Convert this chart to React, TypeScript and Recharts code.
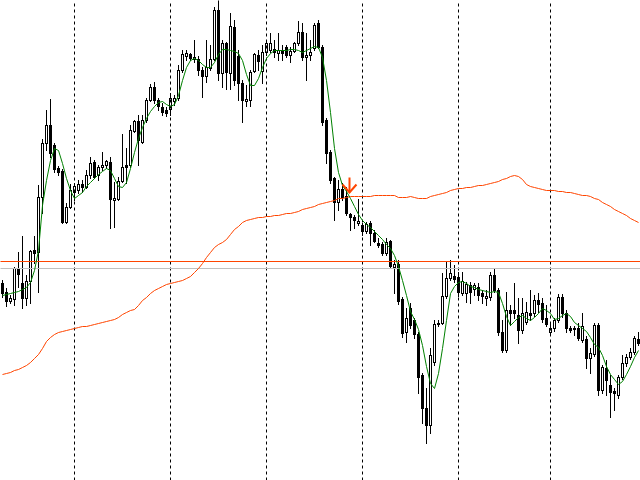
import React from 'react';
import { ComposedChart, Bar, Line, XAxis, YAxis, ReferenceLine, ReferenceDot } from 'recharts';

// hourly candles, price in points
const opens = [
  197, 188, 179, 181, 212, 197, 182, 199, 230, 228, 283, 337, 355, 335, 312, 309, 258, 273, 288, 290,
  296, 293, 305, 318, 305, 313, 315, 318, 280, 281, 299, 315, 315, 349, 359, 338, 360, 380, 393, 380,
  373, 370, 371, 379, 382, 410, 424, 426, 421, 421, 410, 404, 412, 421, 470, 407, 437, 407, 453, 424,
  397, 379, 380, 409, 425, 409, 428, 430, 431, 427, 430, 433, 425, 429, 437, 448, 423, 425, 432, 457,
  433, 360, 328, 302, 278, 291, 284, 266, 263, 257, 255, 249, 257, 247, 237, 236, 227, 239, 213, 216,
  181, 148, 172, 160, 146, 105, 72, 55, 118, 156, 157, 184, 202, 204, 203, 187, 187, 195, 191, 193,
  187, 182, 183, 205, 190, 148, 130, 170, 170, 165, 150, 158, 167, 167, 180, 177, 162, 148, 152, 160,
  183, 167, 152, 152, 152, 140, 141, 122, 126, 155, 90, 112, 95, 89, 85, 103, 117, 123, 128, 141,
];
const highs = [
  200, 192, 185, 213, 228, 244, 205, 230, 244, 295, 341, 370, 381, 337, 314, 311, 277, 296, 297, 300,
  300, 310, 323, 320, 315, 328, 320, 323, 298, 303, 346, 332, 355, 360, 365, 365, 382, 396, 398, 382,
  377, 373, 387, 385, 415, 430, 430, 427, 440, 424, 413, 440, 435, 473, 480, 440, 438, 467, 460, 430,
  400, 395, 410, 427, 430, 435, 440, 447, 440, 447, 435, 435, 433, 438, 459, 457, 447, 440, 457, 460,
  435, 362, 330, 303, 300, 297, 293, 267, 265, 281, 257, 258, 259, 250, 242, 238, 242, 240, 220, 220,
  183, 172, 177, 162, 148, 107, 92, 132, 160, 160, 207, 219, 220, 215, 208, 208, 198, 198, 197, 197,
  190, 190, 208, 212, 192, 160, 188, 175, 197, 182, 182, 178, 190, 185, 187, 182, 175, 158, 162, 186,
  186, 170, 154, 154, 157, 167, 144, 132, 157, 157, 115, 120, 105, 92, 105, 125, 126, 132, 144, 148,
];
const lows = [
  183, 174, 177, 175, 193, 172, 175, 177, 217, 188, 267, 330, 323, 308, 305, 257, 257, 272, 280, 287,
  288, 292, 302, 302, 300, 310, 312, 252, 253, 280, 298, 297, 313, 348, 315, 337, 358, 379, 377, 370,
  365, 364, 365, 375, 380, 408, 420, 420, 418, 405, 383, 398, 410, 420, 400, 393, 391, 391, 395, 380,
  358, 374, 374, 408, 410, 397, 425, 428, 423, 420, 420, 423, 418, 428, 435, 420, 400, 420, 430, 432,
  355, 317, 297, 260, 270, 280, 265, 250, 252, 255, 245, 247, 235, 238, 233, 225, 225, 212, 187, 176,
  143, 138, 152, 142, 87, 57, 37, 47, 115, 154, 156, 182, 200, 198, 184, 185, 178, 177, 185, 180,
  177, 175, 180, 188, 145, 128, 128, 155, 162, 137, 147, 156, 160, 164, 168, 158, 154, 146, 149, 158,
  163, 148, 148, 145, 140, 138, 112, 107, 124, 85, 87, 85, 63, 70, 82, 101, 114, 121, 126, 135,
];
const closes = [
  187, 179, 182, 212, 206, 182, 199, 229, 227, 283, 337, 355, 327, 311, 308, 258, 273, 290, 294, 296,
  293, 305, 317, 303, 313, 315, 319, 281, 282, 299, 313, 313, 350, 359, 340, 360, 380, 393, 380, 374,
  368, 367, 382, 382, 410, 426, 427, 422, 423, 410, 404, 413, 421, 470, 407, 437, 408, 454, 400, 397,
  380, 381, 408, 426, 419, 428, 437, 437, 428, 430, 427, 425, 429, 437, 448, 423, 425, 428, 455, 433,
  358, 327, 300, 278, 291, 283, 267, 263, 260, 259, 249, 256, 247, 239, 235, 227, 238, 214, 216, 179,
  147, 162, 155, 146, 103, 72, 55, 125, 156, 157, 184, 202, 207, 201, 188, 199, 196, 188, 195, 185,
  184, 184, 205, 190, 148, 130, 170, 167, 167, 150, 167, 168, 165, 180, 176, 161, 156, 152, 160, 183,
  167, 152, 150, 151, 142, 154, 122, 127, 155, 90, 113, 100, 88, 87, 103, 117, 123, 128, 142, 137,
];
const fastMa = [
  185, 186, 187, 188, 189, 191, 193, 198, 210, 230, 275, 300, 320, 332, 330, 317, 302, 290, 282, 285,
  288, 294, 298, 302, 306, 309, 312, 310, 302, 294, 293, 298, 312, 328, 342, 353, 362, 369, 374, 378,
  379, 376, 374, 376, 385, 400, 413, 420, 422, 420, 416, 413, 413, 418, 426, 431, 431, 430, 429, 427,
  420, 406, 395, 395, 402, 413, 422, 427, 430, 430, 430, 430, 431, 431, 430, 428, 430, 432, 434, 433,
  423, 400, 368, 332, 308, 295, 289, 282, 274, 266, 260, 256, 253, 249, 245, 241, 236, 232, 225, 214,
  200, 185, 169, 161, 151, 135, 114, 97, 92, 107, 132, 160, 187, 194, 198, 199, 197, 194, 193, 191,
  190, 189, 188, 189, 188, 177, 164, 155, 159, 163, 165, 162, 160, 163, 167, 172, 170, 167, 161, 162,
  165, 167, 164, 158, 155, 152, 149, 143, 136, 133, 125, 114, 106, 101, 96, 99, 106, 114, 123, 130,
];
const slowMa = [
  106, 107, 108, 110, 111, 113, 115, 118, 122, 126, 132, 139, 143, 146, 148, 149, 150, 151, 152, 153,
  154, 154, 155, 156, 157, 158, 159, 160, 161, 163, 166, 168, 170, 171, 175, 180, 183, 187, 190, 192,
  194, 196, 197, 198, 199, 200, 202, 204, 208, 212, 217, 223, 228, 233, 236, 238, 241, 246, 251, 254,
  258, 260, 261, 262, 263, 263, 264, 264, 265, 265, 266, 267, 267, 268, 269, 271, 272, 273, 274, 276,
  277, 278, 279, 280, 282, 282, 283, 284, 284, 284, 284, 284, 284, 285, 285, 285, 285, 285, 285, 283,
  283, 283, 284, 283, 282, 282, 282, 284, 285, 286, 287, 288, 290, 291, 292, 292, 293, 293, 294, 295,
  295, 296, 297, 298, 299, 301, 302, 304, 305, 304, 301, 296, 294, 293, 292, 291, 290, 290, 290, 289,
  289, 288, 288, 287, 286, 285, 285, 284, 282, 281, 278, 276, 274, 271, 269, 267, 265, 262, 260, 258,
];

// candle index where a new day starts
const dayBreaks = [18, 42, 66, 90, 114, 137];
const levelPrices = [219, 212];
const levelColors = ['#FF4500', '#C0C0C0'];
const sellSignals = [{ index: 87, price: 288 }];

const data = opens.map((open, i) => ({
  idx: i,
  open,
  high: highs[i],
  low: lows[i],
  close: closes[i],
  fast: fastMa[i],
  slow: slowMa[i],
}));

const Candle = (props: any) => {
  const { x, y, width, height, payload } = props;
  const { open, close, high, low } = payload;
  const cx = x + width / 2;
  const k = height / (high - low || 1);
  const py = (v: number) => y + (high - v) * k;
  const top = py(Math.max(open, close));
  const bot = py(Math.min(open, close));
  return (
    <g>
      <line x1={cx} x2={cx} y1={y - 0.5} y2={y + height + 0.5} stroke="#000" strokeWidth={1} />
      {close > open ? (
        <rect x={cx - 1} y={top} width={2} height={Math.max(bot - top, 1)} fill="#fff" stroke="#000" strokeWidth={1} />
      ) : (
        <rect x={cx - 1.5} y={top - 0.5} width={3} height={Math.max(bot - top, 0) + 1} fill="#000" />
      )}
    </g>
  );
};

const SellArrow = (props: any) => {
  const { cx, cy } = props;
  const ax = cx - 1;
  return (
    <g stroke="#FF4500" strokeWidth={2} fill="none">
      <line x1={ax} y1={cy} x2={ax} y2={cy - 15} />
      <polyline points={`${ax - 7},${cy - 8} ${ax},${cy} ${ax + 7},${cy - 8}`} />
    </g>
  );
};

const App: React.FC = () => {
  return (
    <div style={{ position: 'absolute', left: 0, top: 0, width: 640, height: 480, overflow: 'hidden', background: '#fff' }}>
      <ComposedChart
        width={641}
        height={481}
        data={data}
        barCategoryGap={0}
        barGap={0}
        margin={{ top: 0.5, right: 0.5, bottom: 0.5, left: 0.5 }}
      >
        <XAxis dataKey="idx" hide />
        <YAxis type="number" domain={[0, 480]} allowDataOverflow hide />
        {dayBreaks.map((d) => (
          <ReferenceLine key={d} x={d} stroke="#000" strokeDasharray="3 3" strokeWidth={1} />
        ))}
        {levelPrices.map((p, i) => (
          <ReferenceLine key={p} y={p} stroke={levelColors[i]} strokeWidth={1} />
        ))}
        <Bar dataKey={(d: any) => [d.low, d.high]} shape={Candle} isAnimationActive={false} />
        <Line type="linear" dataKey="slow" stroke="#FF4500" strokeWidth={1} dot={false} isAnimationActive={false} />
        <Line type="linear" dataKey="fast" stroke="#008000" strokeWidth={1} dot={false} isAnimationActive={false} />
        {sellSignals.map((s) => (
          <ReferenceDot key={s.index} x={s.index} y={s.price} r={0} shape={SellArrow} />
        ))}
      </ComposedChart>
    </div>
  );
};

export default App;
